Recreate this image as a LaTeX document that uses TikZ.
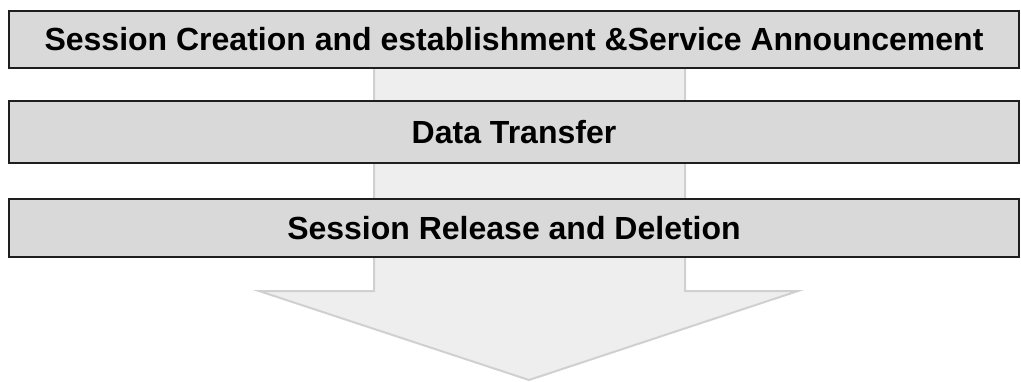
\documentclass[tikz,border=0pt]{standalone}
\usepackage{fontspec}
\setmainfont{Liberation Sans}
\definecolor{barfill}{HTML}{D9D9D9}
\definecolor{barline}{HTML}{1E1E1E}
\definecolor{arrfill}{HTML}{EEEEEE}
\definecolor{arrline}{HTML}{D0D0D0}
\begin{document}
\begin{tikzpicture}[x=1pt,y=-1pt,
  bar/.style={draw=barline, line width=2pt, fill=barfill, minimum width=1010pt, inner sep=0pt, font=\fontsize{32}{36}\selectfont\bfseries, anchor=north west},
  bigarrow/.style={draw=arrline, line width=2pt, fill=arrfill, line join=miter}]
\useasboundingbox (0,0) rectangle (1021,381);
% big arrow behind
\coordinate (a1) at (374,40);
\coordinate (a2) at (374,291);
\coordinate (a3) at (259,291);
\coordinate (tip) at (529,380);
\coordinate (a5) at (798,291);
\coordinate (a6) at (685,291);
\coordinate (a7) at (685,40);
\draw[bigarrow] (a1) -- (a2) -- (a3) -- (tip) -- (a5) -- (a6) -- (a7) -- cycle;
% bars
\node[bar, minimum height=57pt] (b1) at (8,10) {Session Creation and establishment \&Service Announcement};
\node[bar, minimum height=62pt] (b2) at (8,100) {Data Transfer};
\node[bar, minimum height=58pt] (b3) at (8,198) {Session Release and Deletion};
\end{tikzpicture}
\end{document}
